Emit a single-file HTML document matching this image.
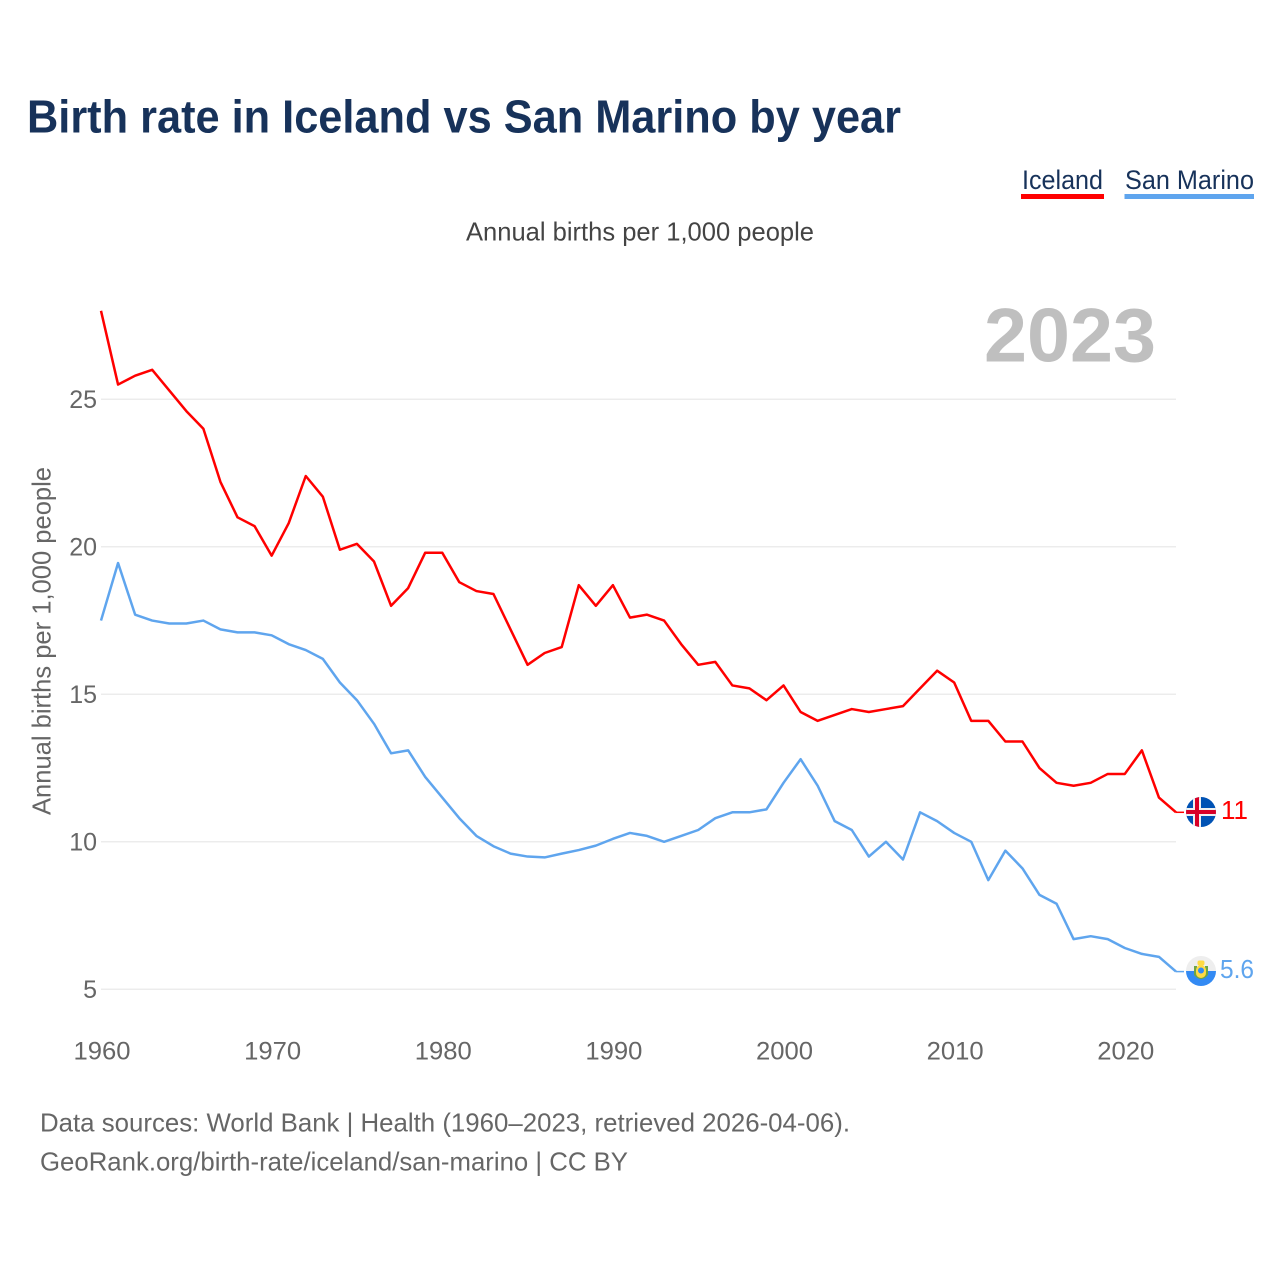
<!DOCTYPE html>
<html lang="en">
<head>
<meta charset="utf-8">
<title>Birth rate in Iceland vs San Marino by year</title>
<style>
html,body{margin:0;padding:0;background:#fff;}
svg{display:block;}
text{font-family:"Liberation Sans",sans-serif;}
</style>
</head>
<body>
<svg id="chart" width="1280" height="1280" viewBox="0 0 1280 1280">
  <text x="27" y="132.500" font-size="46" font-weight="700" fill="#17325a" textLength="874" lengthAdjust="spacingAndGlyphs">Birth rate in Iceland vs San Marino by year</text>
  <g>
    <text x="1022" y="189" font-size="27" fill="#17325a" textLength="81" lengthAdjust="spacingAndGlyphs">Iceland</text>
    <rect x="1021" y="194" width="83" height="5" fill="#ff0000"></rect>
  </g>
  <g>
    <text x="1125" y="189" font-size="27" fill="#17325a" textLength="129" lengthAdjust="spacingAndGlyphs">San Marino</text>
    <rect x="1124.500" y="194" width="129.500" height="5" fill="#5fa5ee"></rect>
  </g>
  <text x="466" y="240.500" font-size="26" fill="#444" textLength="348" lengthAdjust="spacingAndGlyphs">Annual births per 1,000 people</text>
  <text x="984" y="361.500" font-size="76" font-weight="700" fill="#bfbfbf" textLength="172" lengthAdjust="spacingAndGlyphs">2023</text>
  <text transform="translate(50.500,815) rotate(-90)" x="0" y="0" font-size="26" fill="#666" textLength="348" lengthAdjust="spacingAndGlyphs">Annual births per 1,000 people</text>
  <g id="grid"></g>
  <g id="yticks"></g>
  <g id="xticks"></g>
  <g id="series"></g>

  <g id="flag-iceland">
    <clipPath id="clip-is"><circle cx="1201" cy="812" r="15"></circle></clipPath>
    <g clip-path="url(#clip-is)">
      <rect x="1186" y="797" width="30" height="30" fill="#0052b4"></rect>
      <rect x="1193" y="797" width="8" height="30" fill="#f0f0f0"></rect>
      <rect x="1186" y="808" width="30" height="8" fill="#f0f0f0"></rect>
      <rect x="1195" y="797" width="4" height="30" fill="#d80027"></rect>
      <rect x="1186" y="810" width="30" height="4" fill="#d80027"></rect>
    </g>
  </g>
  <g id="flag-san-marino">
    <clipPath id="clip-sm"><circle cx="1201" cy="971" r="15"></circle></clipPath>
    <g clip-path="url(#clip-sm)">
      <rect x="1186" y="956" width="30" height="15" fill="#eeeeee"></rect>
      <rect x="1186" y="971" width="30" height="15" fill="#338af3"></rect>
      <path d="M1194 966 L1197 966 L1197 974 Q1201 979 1205 974 L1205 966 L1208 966 L1208 975 Q1201 983 1194 975 Z" fill="#6da544"></path>
      <rect x="1196" y="965" width="10" height="13" rx="5" fill="#ffda44"></rect>
      <circle cx="1201" cy="970.500" r="3" fill="#338af3"></circle>
      <rect x="1197.500" y="960.500" width="7" height="5" rx="2" fill="#ffda44"></rect>
    </g>
  </g>
  <text id="value-iceland" x="1221" y="819" font-size="26" fill="#ff0000" textLength="27" lengthAdjust="spacingAndGlyphs">11</text>
  <text id="value-san-marino" x="1220" y="978" font-size="26" fill="#5fa5ee" textLength="34" lengthAdjust="spacingAndGlyphs">5.6</text>

  <text x="40" y="1131.500" font-size="26" fill="#666" textLength="810" lengthAdjust="spacingAndGlyphs">Data sources: World Bank | Health (1960–2023, retrieved 2026-04-06).</text>
  <text x="40" y="1170.500" font-size="26" fill="#666" textLength="588" lengthAdjust="spacingAndGlyphs">GeoRank.org/birth-rate/iceland/san-marino | CC BY</text>
</svg>
<script>
const years = [1960,1961,1962,1963,1964,1965,1966,1967,1968,1969,1970,1971,1972,1973,1974,1975,1976,1977,1978,1979,1980,1981,1982,1983,1984,1985,1986,1987,1988,1989,1990,1991,1992,1993,1994,1995,1996,1997,1998,1999,2000,2001,2002,2003,2004,2005,2006,2007,2008,2009,2010,2011,2012,2013,2014,2015,2016,2017,2018,2019,2020,2021,2022,2023];
const icelandValues = [28,25.5,25.8,26,25.3,24.6,24,22.2,21,20.7,19.7,20.8,22.4,21.7,19.9,20.1,19.5,18,18.6,19.8,19.8,18.8,18.5,18.4,17.2,16,16.4,16.6,18.7,18,18.7,17.6,17.7,17.5,16.7,16,16.1,15.3,15.2,14.8,15.3,14.4,14.1,14.3,14.5,14.4,14.5,14.6,15.2,15.8,15.4,14.1,14.1,13.4,13.4,12.5,12,11.9,12,12.3,12.3,13.1,11.5,11];
const sanMarinoValues = [17.5,19.45,17.7,17.5,17.4,17.4,17.5,17.2,17.1,17.1,17,16.7,16.5,16.2,15.4,14.8,14,13,13.1,12.2,11.5,10.8,10.2,9.85,9.6,9.5,9.47,9.6,9.72,9.87,10.1,10.3,10.2,10,10.2,10.4,10.8,11,11,11.1,12,12.8,11.9,10.7,10.4,9.5,10,9.4,11,10.7,10.3,10,8.7,9.7,9.1,8.2,7.9,6.7,6.8,6.7,6.4,6.2,6.1,5.6];
const yTickValues = [5,10,15,20,25];
const xTickValues = [1960,1970,1980,1990,2000,2010,2020];

function xScale(year) { return 101 + (year - 1960) * (1176 - 101) / 63; }
function yScale(value) { return 989.3 - (value - 5) * 29.5; }
function make(tag) { return document.createElementNS(document.getElementById('chart').namespaceURI, tag); }

const gridGroup = document.getElementById('grid');
const yGroup = document.getElementById('yticks');
const xGroup = document.getElementById('xticks');
const seriesGroup = document.getElementById('series');

yTickValues.forEach(function (v) {
  const line = make('line');
  line.setAttribute('x1', 101);
  line.setAttribute('x2', 1176);
  line.setAttribute('y1', yScale(v));
  line.setAttribute('y2', yScale(v));
  line.setAttribute('stroke', '#ececec');
  line.setAttribute('stroke-width', 1.5);
  
  
  gridGroup.appendChild(line);

  const label = make('text');
  label.textContent = String(v);
  label.setAttribute('x', 97);
  label.setAttribute('y', yScale(v) + 8.5);
  label.setAttribute('text-anchor', 'end');
  label.setAttribute('font-size', 25);
  label.setAttribute('fill', '#666');
  
  
  yGroup.appendChild(label);
});

xTickValues.forEach(function (year) {
  const label = make('text');
  label.textContent = String(year);
  label.setAttribute('x', xScale(year) + 1 - 28.5);
  label.setAttribute('y', 1059.5);
  label.setAttribute('font-size', 25);
  label.setAttribute('fill', '#666');
  label.setAttribute('textLength', 57);
  label.setAttribute('lengthAdjust', 'spacingAndGlyphs');
  
  
  xGroup.appendChild(label);
});

function drawSeries(values, color, name, flagX) {
  const pts = values.map(function (v, i) { return xScale(years[i]).toFixed(2) + ',' + yScale(v).toFixed(2); });
  const path = make('polyline');
  path.setAttribute('points', pts.join(' '));
  path.setAttribute('fill', 'none');
  path.setAttribute('stroke', color);
  path.setAttribute('stroke-width', 2.5);
  path.setAttribute('stroke-linejoin', 'round');
  
  
  seriesGroup.appendChild(path);

  const last = values[values.length - 1];
  const stub = make('line');
  stub.setAttribute('x1', xScale(years[years.length - 1]));
  stub.setAttribute('x2', flagX);
  stub.setAttribute('y1', yScale(last));
  stub.setAttribute('y2', yScale(last));
  stub.setAttribute('stroke', color);
  stub.setAttribute('stroke-width', 1.5);
  
  
  seriesGroup.appendChild(stub);
}

drawSeries(sanMarinoValues, '#5fa5ee', 'san-marino', 1184);
drawSeries(icelandValues, '#ff0000', 'iceland', 1184);
</script>
</body>
</html>
